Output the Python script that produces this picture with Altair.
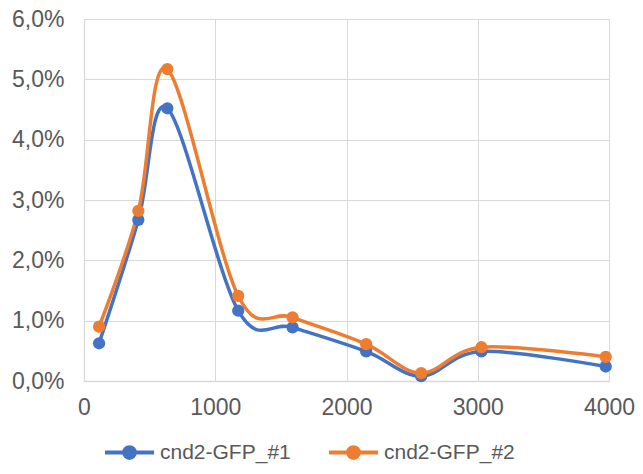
import altair as alt
import pandas as pd

x_vals = [115, 414, 635, 1175, 1589, 2150, 2569, 3028, 3975]
s1 = [0.00625, 0.0267, 0.0452, 0.01165, 0.0089, 0.0049, 0.0008, 0.0049, 0.0024]
s2 = [0.0090, 0.0282, 0.0517, 0.0141, 0.01055, 0.0061, 0.0013, 0.0056, 0.0040]
names = ["cnd2-GFP_#1", "cnd2-GFP_#2"]
colors = ["#4472C4", "#ED7D31"]

rows = []
for n, ys in zip(names, [s1, s2]):
    for x, y in zip(x_vals, ys):
        rows.append({"x": x, "y": y, "series": n})
df = pd.DataFrame(rows)

FONT = "Liberation Sans"
color = alt.Color(
    "series:N",
    scale=alt.Scale(domain=names, range=colors),
    legend=alt.Legend(
        title=None,
        orient="none",
        direction="horizontal",
        legendX=19,
        legendY=407,
        symbolType="M-1,0H1M-0.22,0A0.22,0.22,0,1,1,0.22,0A0.22,0.22,0,1,1,-0.22,0Z",
        symbolSize=2400,
        symbolStrokeWidth=4,
        labelFont=FONT,
        labelFontSize=21,
        labelColor="#595959",
        labelOffset=4,
        columnPadding=30,
        padding=0,
    ),
)

xenc = alt.X(
    "x:Q",
    scale=alt.Scale(domain=[0, 4000], nice=False),
    axis=alt.Axis(values=[0, 1000, 2000, 3000, 4000], title=None, ticks=False,
                  labelPadding=15, labelFlush=False, labelOverlap=False, format="d"),
)
yenc = alt.Y(
    "y:Q",
    scale=alt.Scale(domain=[0, 0.06], nice=False),
    axis=alt.Axis(values=[0, 0.01, 0.02, 0.03, 0.04, 0.05, 0.06], title=None, ticks=False,
                  labelPadding=20, labelOverlap=False,
                  labelExpr="replace(format(datum.value, '.1%'), '.', ',')"),
)

base = alt.Chart(df)
line = base.mark_line(interpolate="cardinal", strokeWidth=3.5).encode(
    x=xenc, y=yenc, color=color, detail="series:N")
pts = base.mark_point(filled=True, size=150, opacity=1).encode(
    x=xenc, y=yenc, color=color)

chart = (line + pts).properties(
    width=525, height=362,
    autosize=alt.AutoSizeParams(type="none"),
    padding={"left": 76, "top": 11, "right": 26, "bottom": 85},
).configure_axis(
    labelFont=FONT, labelFontSize=23, labelColor="#595959",
    gridColor="#D9D9D9", gridWidth=1, domainColor="#D9D9D9", domainWidth=1.3,
).configure_view(stroke="#D9D9D9", strokeWidth=1)

chart.save("out.html", embed_options={"renderer": "svg", "actions": False})
